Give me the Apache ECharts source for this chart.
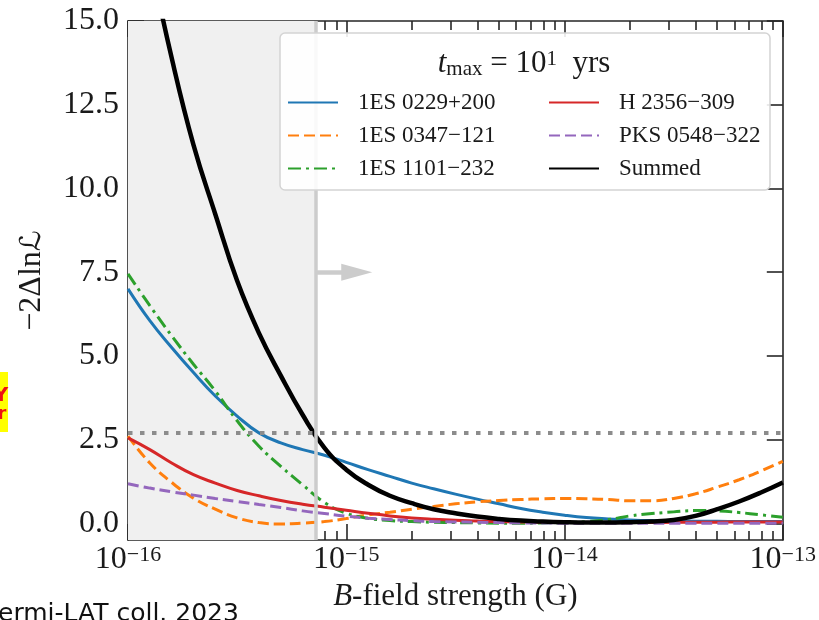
<!DOCTYPE html>
<html>
<head>
<meta charset="utf-8">
<script src="https://cdn.jsdelivr.net/npm/echarts@6/dist/echarts.min.js"></script>
<style>
  html, body { margin: 0; padding: 0; background: #ffffff; }
  #chart { width: 819px; height: 620px; }
</style>
</head>
<body>
<div id="chart"></div>
<script>
// log10 of the B-field strength (G) at which each profile is sampled
const logB = [-16.0, -15.9, -15.8, -15.7, -15.6, -15.5, -15.4, -15.3, -15.2, -15.1,
              -15.0, -14.9, -14.8, -14.7, -14.6, -14.5, -14.4, -14.3, -14.2, -14.1,
              -14.0, -13.9, -13.8, -13.7, -13.6, -13.5, -13.4, -13.3, -13.2, -13.1, -13.0];

// -2 Delta ln L profiles per source
const src0229 = [7.0, 6.05, 5.25, 4.5, 3.8, 3.2, 2.7, 2.4, 2.2, 2.03,
                 1.82, 1.6, 1.4, 1.2, 1.03, 0.87, 0.72, 0.58, 0.44, 0.33,
                 0.24, 0.17, 0.13, 0.1, 0.08, 0.07, 0.06, 0.06, 0.05, 0.05, 0.05];
const src0347 = [2.6, 1.8, 1.22, 0.75, 0.42, 0.16, 0.02, -0.02, 0.0, 0.05,
                 0.14, 0.25, 0.33, 0.42, 0.5, 0.58, 0.64, 0.68, 0.71, 0.73,
                 0.74, 0.73, 0.71, 0.67, 0.67, 0.74, 0.88, 1.08, 1.3, 1.56, 1.85];
const src1101 = [7.45, 6.5, 5.6, 4.75, 3.95, 3.06, 2.3, 1.7, 1.15, 0.62,
                 0.3, 0.15, 0.08, 0.05, 0.03, 0.02, 0.01, 0.0, 0.0, 0.01,
                 0.02, 0.05, 0.11, 0.22, 0.29, 0.34, 0.38, 0.37, 0.32, 0.25, 0.18];
const src2356 = [2.55, 2.2, 1.8, 1.45, 1.2, 0.98, 0.82, 0.68, 0.57, 0.48,
                 0.39, 0.3, 0.22, 0.16, 0.12, 0.09, 0.07, 0.05, 0.04, 0.03,
                 0.02, 0.02, 0.02, 0.02, 0.02, 0.03, 0.03, 0.03, 0.04, 0.04, 0.04];
const src0548 = [1.18, 1.05, 0.94, 0.84, 0.74, 0.65, 0.56, 0.47, 0.37, 0.29,
                 0.21, 0.15, 0.11, 0.08, 0.05, 0.04, 0.03, 0.02, 0.01, 0.01,
                 0.0, 0.0, 0.0, 0.0, 0.0, 0.0, 0.0, 0.0, 0.0, 0.0, 0.0];
const summed  = [20.3, 16.9, 13.9, 11.3, 9.23, 7.24, 5.68, 4.41, 3.24, 2.25,
                 1.6, 1.15, 0.82, 0.6, 0.42, 0.3, 0.2, 0.13, 0.08, 0.05,
                 0.03, 0.02, 0.02, 0.03, 0.05, 0.1, 0.22, 0.42, 0.65, 0.92, 1.22];

const seriesNames = ['1ES 0229+200', 'H 2356\u2212309', '1ES 0347\u2212121',
                     'PKS 0548\u2212322', '1ES 1101\u2212232', 'Summed'];

// axis ticks
const xMajorTicks = [-16, -15, -14, -13];
const yTicks = [0, 2.5, 5, 7.5, 10, 12.5, 15];
const xMinorTicks = [];
[-16, -15, -14].forEach(function (d) {
  for (let k = 2; k <= 9; k++) xMinorTicks.push(d + Math.log10(k));
});

// annotation levels
const thresholdLogB = -15.14;   // summed profile crosses the 2.71 level here
const deltaLevel = 2.71;
const arrowY = 7.5;
const arrowEndLogB = -14.952;

const SERIF = 'Liberation Serif, Times New Roman, serif';
const INK = '#1a1a1a';
const frame = { color: '#262626', width: 1.6 };

function profile(name, values, color, dash, width) {
  return {
    name: name,
    type: 'line',
    data: logB.map(function (x, i) { return [x, values[i]]; }),
    smooth: 0.45,
    symbol: 'none',
    showSymbol: false,
    clip: true,
    z: 4,
    lineStyle: { color: color, width: width, type: dash },
    itemStyle: { color: color }
  };
}

const chart = echarts.init(document.getElementById('chart'), null, { renderer: 'canvas' });

const option = {
  animation: false,
  backgroundColor: '#ffffff',
  grid: { left: 128, right: 36, top: 21, bottom: 80, containLabel: false },
  xAxis: [
    {
      type: 'value', position: 'bottom', min: -16, max: -13, interval: 1,
      axisLine: { show: true, onZero: false, lineStyle: frame },
      axisTick: { show: true, inside: true, length: 16, customValues: xMajorTicks, lineStyle: frame },
      splitLine: { show: false },
      axisLabel: {
        margin: 4,
        color: INK,
        customValues: xMajorTicks,
        formatter: function (v) {
          return '{b|10}{e|\u2212' + Math.abs(Math.round(v)) + '}';
        },
        rich: {
          b: { fontFamily: SERIF, fontSize: 32, lineHeight: 32, color: INK, verticalAlign: 'top' },
          e: { fontFamily: SERIF, fontSize: 22, lineHeight: 22, color: INK, verticalAlign: 'top' }
        }
      },
      name: '{i|B}-field strength (G)',
      nameLocation: 'middle',
      nameGap: 40,
      nameTextStyle: {
        fontFamily: SERIF, fontSize: 31, color: INK,
        rich: { i: { fontFamily: SERIF, fontSize: 31, fontStyle: 'italic', color: INK } }
      }
    },
    {
      type: 'value', position: 'bottom', min: -16, max: -13,
      axisLine: { show: false, onZero: false },
      axisTick: { show: true, inside: true, length: 9, customValues: xMinorTicks, lineStyle: frame },
      axisLabel: { show: false },
      splitLine: { show: false }
    },
    {
      type: 'value', position: 'top', min: -16, max: -13, interval: 1,
      axisLine: { show: true, onZero: false, lineStyle: frame },
      axisTick: { show: true, inside: true, length: 16, customValues: xMajorTicks, lineStyle: frame },
      axisLabel: { show: false },
      splitLine: { show: false }
    },
    {
      type: 'value', position: 'top', min: -16, max: -13,
      axisLine: { show: false, onZero: false },
      axisTick: { show: true, inside: true, length: 9, customValues: xMinorTicks, lineStyle: frame },
      axisLabel: { show: false },
      splitLine: { show: false }
    }
  ],
  yAxis: [
    {
      type: 'value', position: 'left', min: -0.5, max: 15,
      axisLine: { show: true, onZero: false, lineStyle: frame },
      axisTick: { show: true, inside: true, length: 16, customValues: yTicks, lineStyle: frame },
      axisLabel: {
        customValues: yTicks, margin: 9, color: INK,
        fontFamily: SERIF, fontSize: 32,
        formatter: function (v) { return v.toFixed(1); }
      },
      splitLine: { show: false },
      name: '{a|\u22122\u0394ln}{s|\u2112}',
      nameLocation: 'middle',
      nameGap: 80,
      nameTextStyle: {
        fontFamily: SERIF, fontSize: 32, color: INK,
        rich: {
          a: { fontFamily: SERIF, fontSize: 32, color: INK },
          s: { fontFamily: 'DejaVu Serif, DejaVu Sans', fontStyle: 'italic', fontSize: 29, color: INK }
        }
      }
    },
    {
      type: 'value', position: 'right', min: -0.5, max: 15,
      axisLine: { show: true, onZero: false, lineStyle: frame },
      axisTick: { show: true, inside: true, length: 16, customValues: yTicks, lineStyle: frame },
      axisLabel: { show: false },
      splitLine: { show: false }
    }
  ],
  legend: {
    data: seriesNames,
    left: 287, top: 91, width: 520,
    orient: 'horizontal',
    padding: 0,
    itemWidth: 50, itemHeight: 14, itemGap: 10,
    selectedMode: false,
    z: 20,
    itemStyle: { opacity: 0 },
    textStyle: {
      fontFamily: SERIF, fontSize: 23, color: INK,
      width: 180, lineHeight: 23, padding: [0, 0, 0, 15]
    }
  },
  series: [
    // excluded region, the threshold marker and its arrow
    {
      type: 'line', data: [], z: 1, silent: true,
      markArea: {
        silent: true,
        itemStyle: { color: '#f0f0f0' },
        data: [[{ xAxis: -16 }, { xAxis: thresholdLogB }]]
      },
      markLine: {
        silent: true, symbol: 'none', label: { show: false },
        emphasis: { disabled: true },
        data: [
          { xAxis: thresholdLogB, lineStyle: { color: '#cccccc', width: 3.5, type: 'solid' } },
          [
            { coord: [thresholdLogB, arrowY], symbol: 'none',
              lineStyle: { color: '#cccccc', width: 4.5, type: 'solid' } },
            { coord: [arrowEndLogB, arrowY], symbol: 'triangle', symbolSize: [17, 31] }
          ]
        ]
      }
    },
    // 2.71 reference level
    {
      type: 'line', data: [], z: 2, silent: true,
      markLine: {
        silent: true, symbol: 'none', label: { show: false },
        emphasis: { disabled: true },
        data: [{ yAxis: deltaLevel, lineStyle: { color: '#8c8c8c', width: 4, type: [4.5, 7.5] } }]
      }
    },
    profile(seriesNames[0], src0229, '#1f77b4', 'solid', 3),
    profile(seriesNames[2], src0347, '#ff7f0e', [11, 5], 3),
    profile(seriesNames[4], src1101, '#2ca02c', [13, 5, 3, 5], 3),
    profile(seriesNames[1], src2356, '#d62728', 'solid', 3),
    profile(seriesNames[3], src0548, '#9467bd', [11, 5], 3),
    profile(seriesNames[5], summed, '#000000', 'solid', 4.5)
  ],
  graphic: [
    {
      type: 'rect', z: 15, silent: true,
      shape: { x: 280, y: 33, width: 490, height: 157, r: 5 },
      style: { fill: 'rgba(255,255,255,0.88)', stroke: '#d4d4d4', lineWidth: 1.5 }
    },
    {
      type: 'text', z: 16, silent: true, x: 524, y: 64,
      style: {
        text: '{i|t}{sub|max}{n| = 10}{sup|1}{n|  yrs}',
        align: 'center', verticalAlign: 'middle',
        rich: {
          i: { fontFamily: SERIF, fontSize: 31, lineHeight: 31, fontStyle: 'italic', fill: INK },
          sub: { fontFamily: SERIF, fontSize: 21, lineHeight: 21, verticalAlign: 'bottom', fill: INK },
          n: { fontFamily: SERIF, fontSize: 31, lineHeight: 31, fill: INK },
          sup: { fontFamily: SERIF, fontSize: 21, lineHeight: 21, verticalAlign: 'top', fill: INK }
        }
      }
    },
    {
      type: 'text', silent: true, x: -15, y: 614,
      style: { text: 'Fermi-LAT coll. 2023', font: '25px "DejaVu Sans"', fill: '#111111', verticalAlign: 'middle' }
    },
    {
      type: 'rect', silent: true,
      shape: { x: 0, y: 372, width: 8, height: 60 },
      style: { fill: '#ffff00' }
    },
    {
      type: 'text', silent: true, x: 1, y: 396,
      style: { text: 'Y', font: 'bold 20px "DejaVu Sans"', fill: '#ee1111', align: 'center', verticalAlign: 'middle' }
    },
    {
      type: 'text', silent: true, x: 2, y: 414,
      style: { text: 'r', font: 'bold 18px "DejaVu Sans"', fill: '#ee1111', align: 'center', verticalAlign: 'middle' }
    }
  ]
};

chart.setOption(option);
</script>
</body>
</html>
